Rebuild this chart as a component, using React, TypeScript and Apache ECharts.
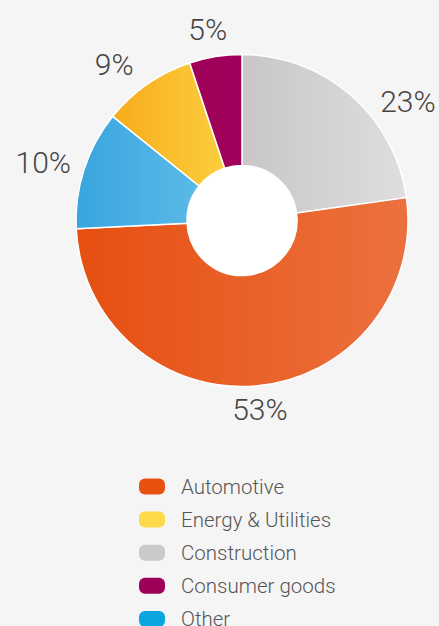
import React, { useEffect, useRef } from "react";
import * as echarts from "echarts";

// Slices in drawing order, clockwise from 12 o'clock
const categories = ["Construction", "Automotive", "Other", "Energy & Utilities", "Consumer goods"];
const shares = [22.8, 51.4, 11.6, 9.1, 5.1];
const sliceLabels = ["23%", "53%", "10%", "9%", "5%"];
const legendOrder = ["Automotive", "Energy & Utilities", "Construction", "Consumer goods", "Other"];

const gradients: Record<string, [string, string]> = {
  Construction: ["#c8c6c7", "#dfdedf"],
  Automotive: ["#e64f10", "#ec713f"],
  Other: ["#38a5de", "#5bbae7"],
  "Energy & Utilities": ["#f7ab1c", "#fcce3e"],
  "Consumer goods": ["#9e0059", "#a0005b"],
};
const legendColors: Record<string, string> = {
  Automotive: "#e8500e",
  "Energy & Utilities": "#fdda4a",
  Construction: "#cbc9c9",
  "Consumer goods": "#9e0059",
  Other: "#0aa6e2",
};

const CX = 242;
const CY = 220.5;
const labelDist = [204, 190, 207, 202, 194];
const labelShift = [13.4, 0, -1.7, -4.5, -1];

export default function App() {
  const ref = useRef<HTMLDivElement>(null);
  useEffect(() => {
    document.body.style.margin = "0";
    const chart = echarts.init(ref.current!, null, { renderer: "svg" });
    const total = shares.reduce((a, b) => a + b, 0);
    const mids: number[] = [];
    let acc = 0;
    shares.forEach((v) => {
      mids.push(((acc + v / 2) / total) * 360);
      acc += v;
    });
    const FONT = "'Helvetica Neue', Roboto, 'Liberation Sans', Arial, sans-serif";
    chart.setOption({
      animation: false,
      backgroundColor: "#f5f5f5",
      legend: {
        orient: "vertical",
        left: 139,
        top: 476,
        height: 300,
        padding: 0,
        itemWidth: 26,
        itemHeight: 16,
        itemGap: 12.1,
        icon: "path://M6,0H20A6,6,0,0,1,26,6V10A6,6,0,0,1,20,16H6A6,6,0,0,1,0,10V6A6,6,0,0,1,6,0Z",
        selectedMode: false,
        textStyle: {
          fontSize: 20.5,
          color: "#555",
          fontFamily: FONT,
          fontWeight: 300,
          padding: [0, 0, 0, 11],
        },
        data: legendOrder.map((n) => ({ name: n, itemStyle: { color: legendColors[n], borderWidth: 0 } })),
      },
      series: [
        {
          type: "pie",
          center: [CX, CY],
          radius: [55, 166],
          startAngle: 90,
          clockwise: true,
          avoidLabelOverlap: false,
          silent: true,
          itemStyle: { borderColor: "#ffffff", borderWidth: 1.5 },
          label: {
            show: true,
            position: "outside",
            formatter: (p: any) => sliceLabels[p.dataIndex],
            fontSize: 30,
            fontWeight: 300,
            color: "#454545",
            fontFamily: FONT,
          },
          labelLine: { show: false },
          labelLayout: (p: any) => {
            const i = p.dataIndex;
            const a = ((mids[i] + labelShift[i]) * Math.PI) / 180;
            return {
              x: CX + labelDist[i] * Math.sin(a),
              y: CY - labelDist[i] * Math.cos(a),
              align: "center",
              verticalAlign: "middle",
            };
          },
          data: categories.map((n, i) => ({
            name: n,
            value: shares[i],
            itemStyle: {
              color: new echarts.graphic.LinearGradient(0, 0, 1, 0, [
                { offset: 0, color: gradients[n][0] },
                { offset: 1, color: gradients[n][1] },
              ]),
            },
          })),
        },
        {
          type: "pie",
          center: [CX, CY],
          radius: [0, 55],
          silent: true,
          label: { show: false },
          labelLine: { show: false },
          itemStyle: { color: "#ffffff", borderWidth: 0 },
          data: [{ name: "hole", value: 1 }],
        },
      ],
    });
    return () => chart.dispose();
  }, []);
  return (
    <div
      ref={ref}
      style={{ position: "fixed", left: 0, top: 0, width: 439, height: 626, background: "#f5f5f5" }}
    />
  );
}
